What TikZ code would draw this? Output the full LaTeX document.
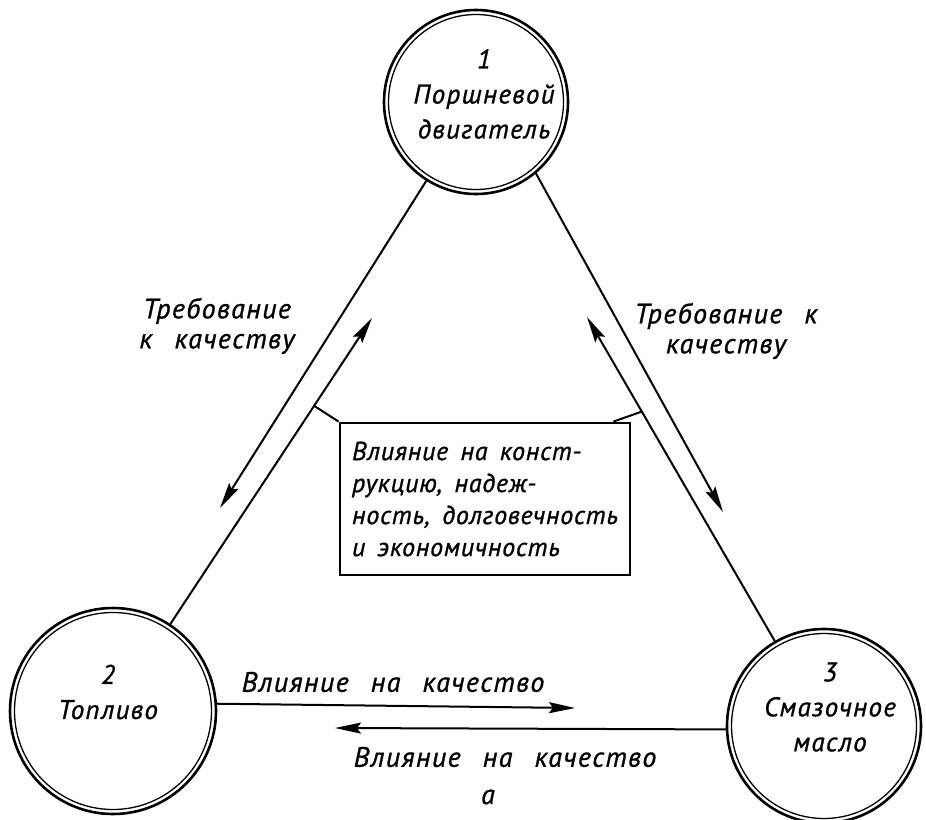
\documentclass[tikz,border=0pt]{standalone}
\usepackage{fontspec}
\setmainfont{PT Sans}
\newfontfamily\gost[FakeBold=1, LetterSpace=5, WordSpace=2.5]{PT Sans}
\newfontfamily\gostbox[FakeBold=1, LetterSpace=3, WordSpace=1.6]{PT Sans}
\usetikzlibrary{arrows.meta,calc}
\begin{document}
\begin{tikzpicture}[x=1pt,y=-1pt,
  lbl/.style={font=\gost\itshape\fontsize{28}{30}\selectfont, inner sep=0pt, align=center},
  clbl/.style={font=\gost\itshape\fontsize{27}{35}\selectfont, inner sep=0pt, align=center},
  ring/.style={circle, draw, line width=2.6pt, inner sep=0pt},
  innerring/.style={line width=1.3pt},
  conn/.style={line width=2pt},
  arr/.style={conn, -{Stealth[length=26pt,width=11pt,inset=4pt]}},
  infobox/.style={draw, line width=2.8pt, minimum width=290pt, minimum height=152pt, inner sep=0pt, align=left, font=\gostbox\itshape\fontsize{26}{32}\selectfont}
]
\path[use as bounding box] (0,0) rectangle (926,819);

% circles
\node[ring, minimum size=184pt] (c1) at (476,102) {};
\draw[innerring] (c1.center) circle[radius=87.5pt];
\node[ring, minimum size=206pt] (c2) at (113,711) {};
\draw[innerring] (c2.center) circle[radius=98.5pt];
\node[ring, minimum size=194pt] (c3) at (824,726) {};
\draw[innerring] (c3.center) circle[radius=92.5pt];

% circle texts
\node[clbl] (t1) at (484,94) {1\\Поршневой\\двигатель};
\node[clbl] (t2) at (108,692) {2\\Топливо};
\node[clbl] (t3) at (830,707) {3\\Смазочное\\масло};

% box
\node[infobox] (box) at (485,499) {Влияние на конст-\\рукцию, надеж-\\ность, долговечность\\и экономичность};

% labels
\node[lbl] (lq1) at (217,326) {Требование\\к качеству};
\node[lbl] (lq2) at (726,331) {Требование к\\качеству};
\node[lbl] (li1) at (393,682) {Влияние на качество};
\node[lbl] (li2) at (505,757) {Влияние на качество};
\node[lbl] (la) at (488,797) {а};

% arrow tips
\coordinate (tL1) at (220,508);
\coordinate (tL2) at (372,318);
\coordinate (tR1) at (723,512);
\coordinate (tR2) at (587,317);
\coordinate (tB1) at (575,708);
\coordinate (tB2) at (335,728);

\draw[arr] (c1) -- (tL1);
\draw[arr] (c2) -- (tL2);
\draw[arr] (c1.-50) -- (tR1);
\draw[arr] (c3) -- (tR2);
\draw[arr] (c2.4) -- (tB1);
\draw[arr] (c3.182) -- (tB2);

% box connectors
\coordinate (jL) at ($(c2)!(316,407)!(tL2)$);
\coordinate (jR) at ($(c3)!(641,412)!(tR2)$);
\draw[conn] (jL) -- (box.north west);
\draw[conn] (jR) -- ([xshift=-18pt]box.north east);
\end{tikzpicture}
\end{document}
